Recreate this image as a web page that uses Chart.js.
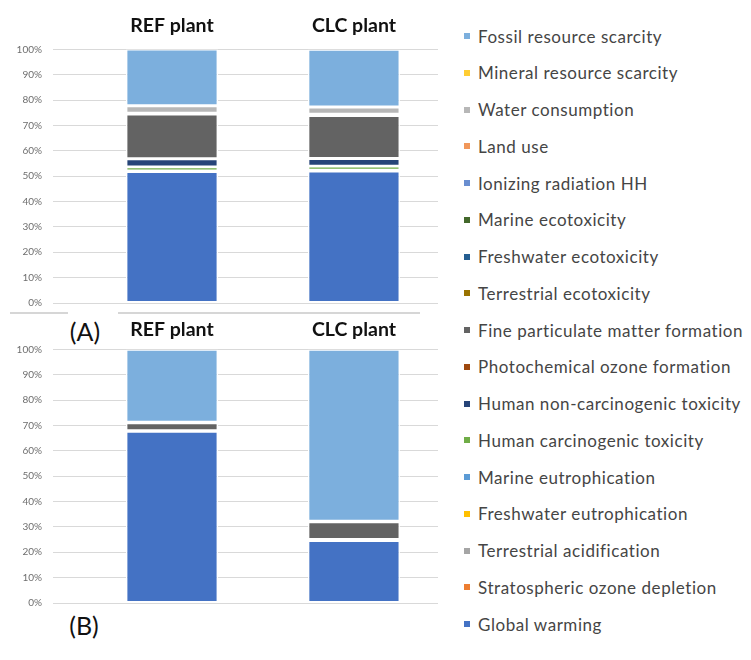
<!DOCTYPE html>
<html>
<head>
<meta charset="utf-8">
<script src="https://cdn.jsdelivr.net/npm/chart.js@4/dist/chart.umd.min.js"></script>
<style>
  html, body { margin: 0; padding: 0; background: #fff; }
  body { width: 751px; height: 660px; position: relative; overflow: hidden; font-family: Lato, "Open Sans", sans-serif; }
  canvas.panel { position: absolute; left: 0; }
  #chartA { top: 0; }
  #chartB { top: 300px; }
  .sep { position: absolute; height: 2px; background: #d6d6d6; top: 312px; }
  .tag { position: absolute; font-size: 25px; color: #111; line-height: 1; transform: translate(-50%, -50%); background: #fff; padding: 3px 3px; }
  #legend { position: absolute; left: 0; top: 0; }
  .item { position: absolute; left: 464px; height: 22px; display: flex; align-items: center; transform: translateY(-50%); white-space: nowrap; }
  .item i { display: block; width: 6px; height: 6px; margin-right: 8px; }
  .item span { font-size: 17px; color: #454545; letter-spacing: 0.55px; }
</style>
</head>
<body>
<canvas id="chartA" class="panel" width="438" height="320"></canvas>
<canvas id="chartB" class="panel" width="438" height="320"></canvas>
<div class="sep" style="left:10px;width:58px"></div>
<div class="sep" style="left:118px;width:302px"></div>
<div class="tag" style="left:85px;top:331px">(A)</div>
<div class="tag" style="left:84px;top:625px">(B)</div>
<div id="legend"></div>
<script>
// Plants shown as the two stacked columns
const plants = ['REF plant', 'CLC plant'];

// Impact categories, listed from the bottom of each stack to the top
const impacts = [
  'Global warming', 'Stratospheric ozone depletion', 'Terrestrial acidification',
  'Freshwater eutrophication', 'Marine eutrophication', 'Human carcinogenic toxicity',
  'Human non-carcinogenic toxicity', 'Photochemical ozone formation',
  'Fine particulate matter formation', 'Terrestrial ecotoxicity', 'Freshwater ecotoxicity',
  'Marine ecotoxicity', 'Ionizing radiation HH', 'Land use', 'Water consumption',
  'Mineral resource scarcity', 'Fossil resource scarcity'
];
const impactColors = [
  '#4472C4', '#ED7D31', '#A5A5A5', '#FFC000', '#5B9BD5', '#70AD47',
  '#264478', '#9E480E', '#636363', '#997300', '#255E91', '#43682B',
  '#698ED0', '#F1975A', '#B7B7B7', '#FFCD33', '#7CAFDD'
];

// Panel (A): share of each impact category, % (same order as impacts)
const refA = [51.8, 0.05, 0.1, 0.05, 0.05, 1.6, 3.2, 0.05, 17.6, 0.05, 0.1, 0.05, 0.1, 0.1, 2.8, 0.1, 22.3];
const clcA = [52.0, 0.05, 0.2, 0.05, 0.1, 1.6, 2.95, 0.05, 16.9, 0.1, 0.2, 0.1, 0.1, 0.1, 2.7, 0.1, 22.7];
// Panel (B)
const refB = [67.7, 0.02, 0.1, 0.02, 0.02, 0.04, 0.05, 0.05, 3.0, 0.02, 0.03, 0.02, 0.03, 0.05, 0.1, 0.05, 28.7];
const clcB = [24.6, 0.02, 0.2, 0.03, 0.05, 0.05, 0.1, 0.05, 6.9, 0.02, 0.03, 0.02, 0.03, 0.05, 0.1, 0.05, 67.7];

// Percent axis ticks
const percentTicks = [0, 10, 20, 30, 40, 50, 60, 70, 80, 90, 100];

function buildChart(canvasId, refVals, clcVals, labelPad) {
  const datasets = impacts.map((name, i) => ({
    label: name,
    data: [{ x: 0, y: refVals[i] }, { x: 1, y: clcVals[i] }],
    backgroundColor: impactColors[i],
    borderColor: '#ffffff',
    borderWidth: 1.4,
    borderSkipped: false,
    inflateAmount: 0,
    barThickness: 92
  }));
  return new Chart(document.getElementById(canvasId), {
    type: 'bar',
    data: { datasets },
    options: {
      responsive: false,
      animation: false,
      devicePixelRatio: 1,
      layout: { padding: 0 },
      plugins: { legend: { display: false }, tooltip: { enabled: false } },
      scales: {
        x: {
          type: 'linear',
          position: 'top',
          stacked: true,
          offset: false,
          min: -0.654,
          max: 1.462,
          grid: { display: false, drawTicks: false },
          border: { display: false },
          ticks: {
            stepSize: 1,
            includeBounds: false,
            autoSkip: false,
            maxRotation: 0,
            padding: labelPad,
            color: '#111',
            font: { family: 'Lato', size: 19.5, weight: 'bold' },
            callback: v => (Number.isInteger(v) && plants[v] !== undefined) ? plants[v] : ''
          },
          afterFit: s => { s.height = 49.4; }
        },
        y: {
          stacked: true,
          min: 0,
          max: 100,
          afterBuildTicks: s => { s.ticks = percentTicks.map(v => ({ value: v })); },
          grid: { color: '#d9d9d9', lineWidth: 1, drawTicks: false },
          border: { display: false },
          ticks: {
            padding: 11,
            color: '#6e6e6e',
            font: { family: 'Lato', size: 10 },
            callback: v => v + '%'
          },
          afterFit: s => { s.width = 53; }
        }
      }
    }
  });
}

buildChart('chartA', refA, clcA, 12);
buildChart('chartB', refB, clcB, 8);

// Legend, top entry = top of the stack
const legend = document.getElementById('legend');
const order = impacts.map((_, i) => i).reverse();
order.forEach((idx, row) => {
  const el = document.createElement('div');
  el.className = 'item';
  el.style.top = (36 + row * 36.75) + 'px';
  const sw = document.createElement('i');
  sw.style.background = impactColors[idx];
  const tx = document.createElement('span');
  tx.textContent = impacts[idx];
  el.appendChild(sw);
  el.appendChild(tx);
  legend.appendChild(el);
});
</script>
</body>
</html>
